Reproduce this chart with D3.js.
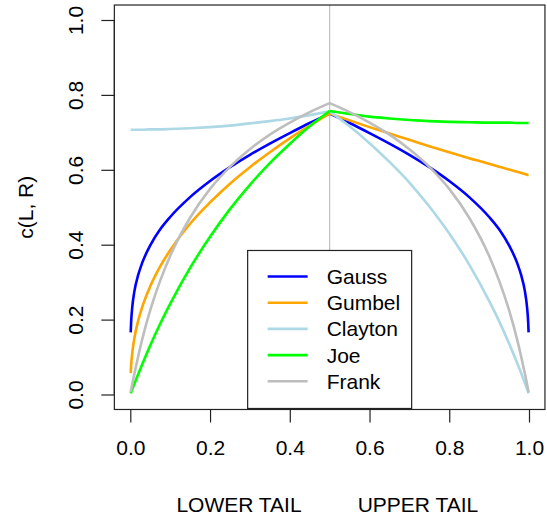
<!DOCTYPE html>
<html>
<head>
<meta charset="utf-8">
<script src="https://cdn.jsdelivr.net/npm/d3@7/dist/d3.min.js"></script>
<style>
  body { margin: 0; background: #fff; }
  text { font-family: "Liberation Sans", Arial, sans-serif; fill: #000; }
</style>
</head>
<body>
<svg id="chart" width="547" height="516"></svg>
<script>
// Grid of L/R positions (lower tail: u <= 0.5, upper tail: u >= 0.5)
const u = [0.001, 0.002, 0.005, 0.01, 0.02, 0.03, 0.05, 0.075, 0.1, 0.15, 0.2, 0.25, 0.3, 0.35, 0.4, 0.45, 0.5,
           0.55, 0.6, 0.65, 0.7, 0.75, 0.8, 0.85, 0.9, 0.925, 0.95, 0.97, 0.98, 0.99, 0.995, 0.998, 0.999];

// Tail concentration values c(L, R) per copula family
const gauss   = [0.166, 0.192, 0.234, 0.274, 0.320, 0.352, 0.398, 0.441, 0.474, 0.527, 0.570, 0.607, 0.640, 0.670, 0.698, 0.725, 0.750,
                 0.725, 0.698, 0.670, 0.640, 0.607, 0.570, 0.527, 0.474, 0.441, 0.398, 0.352, 0.320, 0.274, 0.234, 0.192, 0.166];
const gumbel  = [0.057, 0.076, 0.111, 0.149, 0.198, 0.234, 0.289, 0.342, 0.385, 0.456, 0.513, 0.563, 0.607, 0.647, 0.684, 0.718, 0.750,
                 0.732, 0.714, 0.697, 0.680, 0.663, 0.647, 0.631, 0.616, 0.608, 0.601, 0.595, 0.592, 0.589, 0.587, 0.586, 0.586];
const clayton = [0.707, 0.707, 0.707, 0.707, 0.707, 0.707, 0.708, 0.708, 0.709, 0.711, 0.714, 0.718, 0.724, 0.730, 0.737, 0.746, 0.756,
                 0.716, 0.671, 0.621, 0.566, 0.502, 0.430, 0.347, 0.250, 0.196, 0.136, 0.085, 0.058, 0.029, 0.015, 0.006, 0.003];
const joe     = [0.003, 0.006, 0.014, 0.028, 0.055, 0.081, 0.131, 0.189, 0.242, 0.338, 0.421, 0.495, 0.560, 0.618, 0.669, 0.716, 0.757,
                 0.749, 0.742, 0.737, 0.733, 0.730, 0.728, 0.727, 0.726, 0.726, 0.726, 0.725, 0.725, 0.725, 0.725, 0.725, 0.725];
const frank   = [0.006, 0.012, 0.028, 0.054, 0.103, 0.148, 0.225, 0.304, 0.370, 0.472, 0.549, 0.608, 0.655, 0.694, 0.726, 0.754, 0.778,
                 0.754, 0.726, 0.694, 0.655, 0.608, 0.549, 0.472, 0.370, 0.304, 0.225, 0.148, 0.103, 0.054, 0.028, 0.012, 0.006];

const seriesNames  = ["Gauss", "Gumbel", "Clayton", "Joe", "Frank"];
const seriesValues = [gauss, gumbel, clayton, joe, frank];
const seriesColors = ["#0000FF", "#FFA500", "#ADD8E6", "#00FF00", "#BEBEBE"];

const xTicks = [0, 0.2, 0.4, 0.6, 0.8, 1.0];
const yTicks = [0, 0.2, 0.4, 0.6, 0.8, 1.0];
const yTitle = "c(L, R)";
const xTitleLeft = "LOWER TAIL";
const xTitleRight = "UPPER TAIL";
const split = 0.5;

const svg = d3.select("#chart");
svg.append("rect").attr("width", 547).attr("height", 516).attr("fill", "#fff");

const x = d3.scaleLinear().domain([0, 1]).range([130.3, 529]);
const y = d3.scaleLinear().domain([0, 1]).range([394.5, 20]);
const pad = 0.04;
const box = { x0: x(-pad), x1: x(1 + pad), y0: y(1 + pad), y1: y(-pad) };
const fontSize = 21;

// divider between lower and upper tail
svg.append("line")
  .attr("x1", x(split)).attr("x2", x(split))
  .attr("y1", box.y0).attr("y2", box.y1)
  .attr("stroke", "#c4c4c4").attr("stroke-width", 1.3);

// curves: each family drawn as a lower and an upper branch meeting at 0.5
const line = d3.line()
  .x(d => x(d[0])).y(d => y(d[1]))
  .curve(d3.curveMonotoneX);

seriesValues.forEach((vals, i) => {
  const pts = u.map((v, j) => [v, vals[j]]);
  const lower = pts.filter(p => p[0] <= split);
  const upper = pts.filter(p => p[0] >= split);
  [lower, upper].forEach(branch => {
    svg.append("path")
      .attr("d", line(branch))
      .attr("fill", "none")
      .attr("stroke", seriesColors[i])
      .attr("stroke-width", 2.6)
      .attr("stroke-linejoin", "round");
  });
});

// legend, anchored at the bottom centre of the plot region
const legW = 164, legH = 158, rowH = 26.2;
const legX = x(split) - legW / 2;
const legY = box.y1 - legH - 1;
const leg = svg.append("g").attr("transform", `translate(${legX},${legY})`);
leg.append("rect")
  .attr("width", legW).attr("height", legH)
  .attr("fill", "#fff").attr("stroke", "#222").attr("stroke-width", 1.2);
seriesNames.forEach((name, i) => {
  const cy = 26 + i * rowH;
  leg.append("line")
    .attr("x1", 20).attr("x2", 60).attr("y1", cy).attr("y2", cy)
    .attr("stroke", seriesColors[i]).attr("stroke-width", 2.6);
  leg.append("text")
    .attr("x", 79).attr("y", cy + 7.5)
    .attr("font-size", fontSize)
    .text(name);
});

// plot frame
svg.append("rect")
  .attr("x", box.x0).attr("y", box.y0)
  .attr("width", box.x1 - box.x0).attr("height", box.y1 - box.y0)
  .attr("fill", "none").attr("stroke", "#222").attr("stroke-width", 1.2);

// x axis
const xAxis = d3.axisBottom(x).tickValues(xTicks).tickFormat(d3.format(".1f"))
  .tickSize(13).tickPadding(18);
const gx = svg.append("g").attr("transform", `translate(0,${box.y1})`).call(xAxis);
gx.select(".domain")
  .attr("d", `M${x(xTicks[0])},0H${x(xTicks[xTicks.length - 1])}`)
  .attr("stroke", "#222").attr("stroke-width", 1.2);
gx.selectAll(".tick line").attr("stroke", "#222").attr("stroke-width", 1.2);
gx.selectAll(".tick text")
  .attr("font-size", fontSize).attr("font-family", "Liberation Sans, Arial, sans-serif")
  .attr("fill", "#000");

// y axis with labels rotated parallel to the axis
const yAxis = d3.axisLeft(y).tickValues(yTicks).tickFormat(d3.format(".1f"))
  .tickSize(13).tickPadding(0);
const gy = svg.append("g").attr("transform", `translate(${box.x0},0)`).call(yAxis);
gy.select(".domain")
  .attr("d", `M0,${y(yTicks[0])}V${y(yTicks[yTicks.length - 1])}`)
  .attr("stroke", "#222").attr("stroke-width", 1.2);
gy.selectAll(".tick line").attr("stroke", "#222").attr("stroke-width", 1.2);
gy.selectAll(".tick text")
  .attr("font-size", fontSize).attr("font-family", "Liberation Sans, Arial, sans-serif")
  .attr("fill", "#000")
  .attr("x", null).attr("dy", null)
  .attr("text-anchor", "middle")
  .attr("transform", "translate(-31,0) rotate(-90)");

// axis titles
svg.append("text")
  .attr("transform", `translate(33,${(box.y0 + box.y1) / 2}) rotate(-90)`)
  .attr("text-anchor", "middle")
  .attr("font-size", fontSize)
  .text(yTitle);

const xc = (box.x0 + box.x1) / 2;
svg.append("text")
  .attr("x", xc - 28).attr("y", 511.5)
  .attr("text-anchor", "end").attr("font-size", fontSize)
  .text(xTitleLeft);
svg.append("text")
  .attr("x", xc + 28).attr("y", 511.5)
  .attr("text-anchor", "start").attr("font-size", fontSize)
  .text(xTitleRight);
</script>
</body>
</html>
